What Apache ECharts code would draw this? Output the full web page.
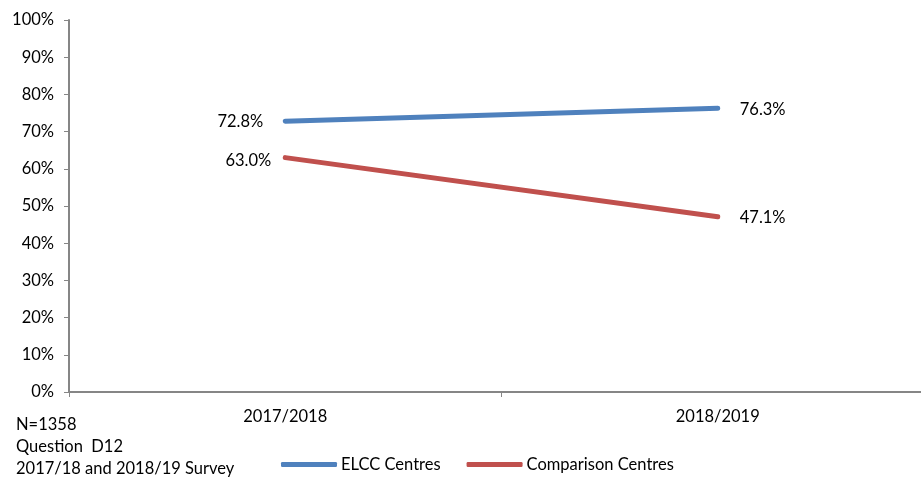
<!DOCTYPE html>
<html>
<head>
<meta charset="utf-8">
<script src="https://cdn.jsdelivr.net/npm/echarts@6/dist/echarts.min.js"></script>
<style>
  html, body { margin: 0; padding: 0; background: #fff; overflow: hidden; }
  #wrap { width: 921px; height: 480px; overflow: hidden; }
  /* the plot area continues a little past the right edge of the view */
  #chart { width: 934px; height: 480px; }
</style>
</head>
<body>
<div id="wrap"><div id="chart"></div></div>
<script>
// Survey years on the category axis
const categories = ['2017/2018', '2018/2019'];
// Share of respondents (percent) per survey year
const elccValues = [72.8, 76.3];
const comparisonValues = [63.0, 47.1];
const seriesNames = ['ELCC Centres', 'Comparison Centres'];
// Notes printed under the axis
const footnotes = ['N=1358', 'Question  D12', '2017/18 and 2018/19 Survey'];

const FONT = 'Lato';
const FS = 16.5;
const axisGrey = '#868686';
const blue = '#4F81BD';
const red = '#C0504D';

const chart = echarts.init(document.getElementById('chart'), null, { renderer: 'canvas' });

function pctLabel(position, distance, offset) {
  return {
    show: true,
    position: position,
    distance: distance,
    offset: offset || [0, 0],
    formatter: p => p.value.toFixed(1) + '%',
    color: '#000',
    fontFamily: FONT,
    fontSize: FS
  };
}

function buildData(values, labels) {
  return values.map((v, i) => ({ value: v, label: labels[i] }));
}

chart.setOption({
  animation: false,
  textStyle: { fontFamily: FONT },
  grid: { left: 69, right: 0, top: 20, height: 372, containLabel: false },
  xAxis: {
    type: 'category',
    data: categories,
    boundaryGap: true,
    axisLine: { lineStyle: { color: axisGrey, width: 2 } },
    axisTick: { show: true, length: 5, lineStyle: { color: axisGrey, width: 1 }, interval: 0 },
    axisLabel: { color: '#000', fontSize: FS, fontFamily: FONT, margin: 16 }
  },
  yAxis: {
    type: 'value',
    min: 0,
    max: 100,
    interval: 10,
    splitLine: { show: false },
    axisLine: { show: true, lineStyle: { color: axisGrey, width: 2 } },
    axisTick: { show: true, length: 5, lineStyle: { color: axisGrey, width: 1 } },
    axisLabel: { color: '#000', fontSize: FS, fontFamily: FONT, margin: 15, formatter: v => v + '%' }
  },
  legend: {
    left: 281,
    top: 456,
    padding: 0,
    itemWidth: 56,
    itemHeight: 5,
    itemGap: 26,
    icon: 'roundRect',
    textStyle: { color: '#000', fontSize: FS, fontFamily: FONT, padding: [0, 0, 0, -1] },
    data: [
      { name: seriesNames[0], itemStyle: { color: blue, opacity: 1 } },
      { name: seriesNames[1], itemStyle: { color: red, opacity: 1 } }
    ]
  },
  graphic: footnotes.map((t, i) => ({
    type: 'text',
    left: 16,
    top: 416 + i * 22,
    style: { text: t, fill: '#000', font: FS + 'px ' + FONT }
  })),
  series: [
    {
      name: seriesNames[0],
      type: 'line',
      data: buildData(elccValues, [pctLabel('left', 22), pctLabel('right', 22, [0, 2])]),
      symbol: 'circle',
      symbolSize: 0,
      showSymbol: true,
      lineStyle: { color: blue, width: 5, cap: 'round' },
      itemStyle: { color: blue }
    },
    {
      name: seriesNames[1],
      type: 'line',
      data: buildData(comparisonValues, [pctLabel('left', 14, [0, 3]), pctLabel('right', 22, [0, 1])]),
      symbol: 'circle',
      symbolSize: 0,
      showSymbol: true,
      lineStyle: { color: red, width: 5, cap: 'round' },
      itemStyle: { color: red }
    }
  ]
});
</script>
</body>
</html>
